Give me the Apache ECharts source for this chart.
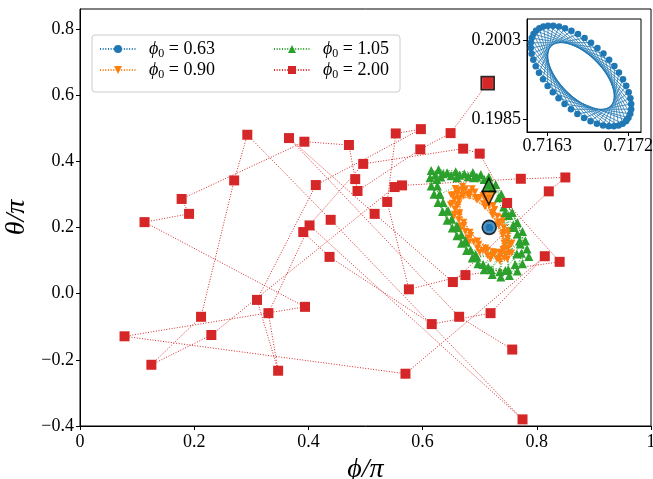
<!DOCTYPE html>
<html><head><meta charset="utf-8">
<script src="https://cdn.jsdelivr.net/npm/echarts@6/dist/echarts.min.js"></script>
<style>html,body{margin:0;padding:0;background:#fff}#c{width:653px;height:479px}</style>
</head><body><div id="c"></div>
<script>
// ---- tick labels ----
const xTicks = [0, 0.2, 0.4, 0.6, 0.8, 1];
const yTicks = [-0.4, -0.2, 0, 0.2, 0.4, 0.6, 0.8];
const xInsetTicks = [0.7163, 0.7172];
const yInsetTicks = [0.1985, 0.2003];
const legendNames = ['0.63', '0.90', '1.05', '2.00'];

// ---- initial points (highlighted) ----
const blueStart = [0.7167, 0.2002];
const orangeStart = [0.716, 0.289];
const greenStart = [0.716, 0.329];
const redStart = [0.714, 0.636];

// ---- phi0 = 0.63 (tiny ellipse, shown in inset) ----
const blueOrbit = [
  [0.717174,0.198450],[0.716857,0.200120],[0.716126,0.200343],[0.716634,0.198615],
  [0.717232,0.198843],[0.716568,0.200512],[0.716144,0.199848],[0.716919,0.198352],
  [0.717141,0.199407],[0.716308,0.200627],[0.716303,0.199254],[0.717137,0.198392],
  [0.716924,0.199990],[0.716146,0.200435],[0.716562,0.198721],[0.717232,0.198724],
  [0.716641,0.200437],[0.716125,0.199987],[0.716851,0.198391],[0.717177,0.199258],
  [0.716366,0.200627],[0.716252,0.199403],[0.717092,0.198353],[0.716987,0.199851],
  [0.716174,0.200510],[0.716491,0.198840],[0.717222,0.198617],[0.716714,0.200345],
  [0.716116,0.200117],[0.716780,0.198448],[0.717204,0.199112],[0.716430,0.200608],
  [0.716207,0.199553],[0.717040,0.198333],[0.717045,0.199706],[0.716211,0.200568],
  [0.716424,0.198970],[0.717202,0.198526],[0.716786,0.200239],[0.716116,0.200236],
  [0.716708,0.198523],[0.717223,0.198973],[0.716497,0.200569],[0.716171,0.199703],
  [0.716982,0.198333],[0.717096,0.199557],[0.716256,0.200607],[0.716361,0.199109],
  [0.717180,0.198470]
];

// ---- phi0 = 0.90 (orange ring) ----
const orangeOrbit = [
  [0.7485,0.1037],[0.7334,0.2059],[0.6868,0.3167],[0.6624,0.2697],[0.6816,0.1550],[0.7341,0.1248],
  [0.7512,0.1897],[0.6952,0.2830],[0.6498,0.2982],[0.6831,0.1855],[0.7356,0.0972],[0.7406,0.1767],
  [0.7058,0.2967],[0.6647,0.2877],[0.6658,0.1921],[0.7235,0.1265],[0.7568,0.1529],[0.7093,0.2625],
  [0.6571,0.3176],[0.6722,0.2153],[0.7188,0.1045],[0.7432,0.1515],[0.7240,0.2662],[0.6715,0.2964],
  [0.6544,0.2315],[0.7104,0.1382],[0.7558,0.1230],[0.7225,0.2357],[0.6700,0.3240],[0.6650,0.2445],
  [0.7000,0.1246],[0.7410,0.1335],[0.7399,0.2291],[0.6821,0.2948],[0.6488,0.2683],[0.6963,0.1588]
];
const orangeMid = [
  [0.7453,0.1188],[0.7499,0.1379],[0.7488,0.1657],[0.7422,0.1989],[0.7309,0.2336],[0.7161,0.2654],
  [0.6998,0.2907],[0.6838,0.3063],[0.6701,0.3103],[0.6603,0.3024],[0.6557,0.2833],[0.6568,0.2555],
  [0.6634,0.2223],[0.6747,0.1876],[0.6895,0.1558],[0.7058,0.1305],[0.7218,0.1149],[0.7355,0.1109]
];
const orangeZigzag = [
  [0.7515,0.1222],[0.7451,0.1568],[0.7500,0.1813],[0.7333,0.2154],[0.7264,0.2542],[0.7072,0.2718],
  [0.6918,0.3067],[0.6791,0.2995],[0.6623,0.3142],[0.6621,0.2856],[0.6518,0.2732],[0.6641,0.2367],
  [0.6651,0.2030],[0.6842,0.1755],[0.6961,0.1363],[0.7130,0.1308],[0.7302,0.1044],[0.7371,0.1234],
  [0.7435,0.1356],[0.7538,0.1480],[0.7415,0.1845],[0.7405,0.2182],[0.7214,0.2457],[0.7095,0.2849],
  [0.6926,0.2904],[0.6754,0.3168],[0.6685,0.2978],[0.6541,0.2991],[0.6605,0.2644],[0.6556,0.2399],
  [0.6723,0.2058],[0.6792,0.1670],[0.6984,0.1494],[0.7138,0.1145],[0.7265,0.1217],[0.7433,0.1070]
];

// ---- phi0 = 1.05 (green ring) ----
const greenOrbit = [
  [0.615,0.372],[0.673,0.362],[0.728,0.330],[0.766,0.215],[0.786,0.112],[0.737,0.050],
  [0.687,0.108],[0.652,0.198],[0.620,0.300],[0.628,0.375],[0.688,0.366],[0.738,0.300],
  [0.775,0.188],[0.775,0.090],[0.722,0.058],[0.677,0.130],[0.643,0.222],[0.615,0.325],
  [0.643,0.365],[0.702,0.360],[0.748,0.272],[0.780,0.160],[0.766,0.068],[0.708,0.072],
  [0.668,0.152],[0.635,0.248],[0.613,0.350],[0.658,0.368],[0.716,0.352],[0.757,0.245],
  [0.783,0.135],[0.752,0.055],[0.697,0.090],[0.660,0.175],[0.627,0.275]
];
const greenBand = [
  [0.625,0.345],[0.626,0.325],[0.630,0.300],[0.636,0.275],[0.643,0.250],[0.651,0.225],
  [0.660,0.200],[0.668,0.178],[0.676,0.155],[0.684,0.132],
  [0.773,0.122],[0.695,0.110],[0.771,0.150],[0.706,0.088],[0.766,0.180],[0.720,0.072],
  [0.759,0.208],[0.735,0.066],[0.751,0.236],[0.750,0.072],[0.742,0.262],[0.762,0.088],
  [0.733,0.290],[0.722,0.318],[0.708,0.345],[0.695,0.352],[0.680,0.354],[0.665,0.358],
  [0.650,0.356],[0.636,0.362],[0.622,0.358]
];
const greenInner = [
  [0.632,0.352],[0.660,0.350],[0.690,0.350],[0.630,0.300],[0.645,0.250],[0.660,0.205],
  [0.675,0.160],[0.693,0.118],[0.715,0.080],[0.745,0.070],[0.765,0.120],[0.770,0.160],
  [0.760,0.200],[0.745,0.245]
];

// ---- phi0 = 2.00 (red chaotic path) ----
const redPath = [
  [0.714,0.636],[0.649,0.485],[0.596,0.436],[0.486,0.310],[0.482,0.346],[0.471,0.449],
  [0.393,0.459],[0.178,0.286],[0.191,0.241],[0.113,0.216],[0.394,-0.040],[0.078,-0.129],
  [0.570,-0.242],[0.814,0.113],[0.719,-0.059],[0.616,-0.092],[0.437,0.111],[0.391,0.186],
  [0.496,0.392],[0.671,0.438],[0.700,0.423],[0.748,0.274],[0.840,0.096],[0.675,0.056],
  [0.576,0.013],[0.538,0.277],[0.553,0.484],[0.597,0.497],[0.413,0.328],[0.310,-0.019],
  [0.347,-0.233],[0.330,-0.059],[0.402,0.206],[0.775,-0.380],[0.439,0.223],[0.293,0.480],
  [0.270,0.342],[0.212,-0.070],[0.125,-0.215],[0.230,-0.125],[0.551,0.322],[0.564,0.327],
  [0.772,0.347],[0.850,0.351],[0.821,0.309],[0.653,0.035],[0.516,0.241],[0.366,0.470],
  [0.664,-0.070],[0.757,-0.169]
];

const C = {blue:'#1f77b4', orange:'#ff7f0e', green:'#2ca02c', red:'#d62728'};
const FONT = '"Liberation Serif","DejaVu Serif",serif';
const DOT = [1, 1.65];

function fmtX(v){ if (Math.abs(v) < 1e-9) return '0'; if (Math.abs(v-1) < 1e-9) return '1'; return v.toFixed(1); }
function fmtY(v){ return (v < -1e-9 ? '\u2212' : '') + Math.abs(v).toFixed(1); }

const chart = echarts.init(document.getElementById('c'), null, {renderer:'canvas'});

const axisCommon = {
  axisLine:{show:true, onZero:false, lineStyle:{color:'#000', width:1}},
  splitLine:{show:false}
};
const labelStyle = {fontFamily:FONT, fontSize:18, color:'#000'};

const legendText = {
  fontFamily:FONT, fontSize:18, color:'#000', padding:[0,0,0,8],
  rich:{
    i:{fontFamily:FONT, fontStyle:'italic', fontSize:18, lineHeight:22},
    s:{fontFamily:FONT, fontSize:12, lineHeight:12, verticalAlign:'bottom'},
    n:{fontFamily:FONT, fontSize:18, lineHeight:22}
  }
};
const legendFmt = n => '{i|\u03d5}{s|0}{n| = ' + n + '}';

function lineSeries(name, data, color, symbol, size, rotate, z){
  return {
    name, type:'line', xAxisIndex:0, yAxisIndex:0, data,
    symbol, symbolSize:size, symbolRotate:rotate||0, showSymbol:true,
    lineStyle:{color, width:1, type:DOT}, itemStyle:{color},
    z, silent:true, animation:false
  };
}
function startSeries(pt, color, symbol, size, rotate){
  return {
    type:'scatter', xAxisIndex:0, yAxisIndex:0, data:[pt], symbol, symbolSize:size,
    symbolRotate:rotate||0, itemStyle:{color, borderColor:'#000', borderWidth:1.6},
    z:6, silent:true, animation:false
  };
}

chart.setOption({
  animation:false,
  graphic:[{
    type:'rect', shape:{x:92, y:35, width:308, height:57, r:3},
    style:{fill:'rgba(255,255,255,0.85)', stroke:'#cccccc', lineWidth:1}, z:3
  }],
  legend:[
    {data:[legendNames[0], legendNames[1]], left:99, top:40, orient:'vertical', padding:0,
     itemWidth:36, itemHeight:10, itemGap:1, formatter:legendFmt, textStyle:legendText,
     selectedMode:false, z:5},
    {data:[legendNames[2], legendNames[3]], left:273, top:40, orient:'vertical', padding:0,
     itemWidth:36, itemHeight:10, itemGap:1, formatter:legendFmt, textStyle:legendText,
     selectedMode:false, z:5}
  ],
  grid:[
    {left:80, top:9, width:571, height:417, show:true, borderColor:'#000', borderWidth:1,
     backgroundColor:'transparent', containLabel:false, outerBoundsMode:'none'},
    {left:527, top:19, width:114, height:113, show:true, borderColor:'#000', borderWidth:1,
     backgroundColor:'#fff', z:10, containLabel:false, outerBoundsMode:'none'}
  ],
  xAxis:[
    Object.assign({gridIndex:0, type:'value', min:0, max:1,
      axisTick:{show:true, length:4, customValues:xTicks, lineStyle:{color:'#000'}},
      axisLabel:Object.assign({customValues:xTicks, margin:7, formatter:fmtX}, labelStyle),
      name:'\u03d5/\u03c0', nameLocation:'middle', nameGap:24,
      nameTextStyle:{fontFamily:FONT, fontSize:28, fontStyle:'italic', color:'#000'}}, axisCommon),
    Object.assign({gridIndex:1, type:'value', min:0.716074, max:0.717341, z:11,
      axisTick:{show:true, length:4, customValues:xInsetTicks, lineStyle:{color:'#000'}},
      axisLabel:Object.assign({customValues:xInsetTicks, margin:5, formatter:v=>v.toFixed(4)}, labelStyle)}, axisCommon)
  ],
  yAxis:[
    Object.assign({gridIndex:0, type:'value', min:-0.4, max:0.86,
      axisTick:{show:true, length:4, customValues:yTicks, lineStyle:{color:'#000'}},
      axisLabel:Object.assign({customValues:yTicks, margin:6, formatter:fmtY}, labelStyle),
      name:'\u03b8/\u03c0', nameLocation:'middle', nameGap:40,
      nameTextStyle:{fontFamily:FONT, fontSize:28, fontStyle:'italic', color:'#000'}}, axisCommon),
    Object.assign({gridIndex:1, type:'value', min:0.198204, max:0.200778, z:11,
      axisTick:{show:true, length:4, customValues:yInsetTicks, lineStyle:{color:'#000'}},
      axisLabel:Object.assign({customValues:yInsetTicks, margin:6, formatter:v=>v.toFixed(4)}, labelStyle)}, axisCommon)
  ],
  series:[
    lineSeries(legendNames[0], [blueStart].concat(blueOrbit), C.blue, 'circle', 6, 0, 2),
    lineSeries(legendNames[1], [orangeStart].concat(orangeOrbit, orangeMid, orangeZigzag), C.orange, 'triangle', 7, 180, 2),
    lineSeries(legendNames[2], [greenStart].concat(greenOrbit, greenBand, greenInner), C.green, 'triangle', 9, 0, 2),
    lineSeries(legendNames[3], redPath, C.red, 'rect', 10, 0, 2),
    startSeries(blueStart, C.blue, 'circle', 14),
    startSeries(orangeStart, C.orange, 'triangle', 13, 180),
    startSeries(greenStart, C.green, 'triangle', 13),
    startSeries(redStart, C.red, 'rect', 13),
    {
      name:'inset', type:'line', xAxisIndex:1, yAxisIndex:1, data:blueOrbit,
      symbol:'circle', symbolSize:6.5, lineStyle:{color:C.blue, width:0.8},
      itemStyle:{color:C.blue}, z:12, silent:true, animation:false
    }
  ]
});
</script>
</body></html>
